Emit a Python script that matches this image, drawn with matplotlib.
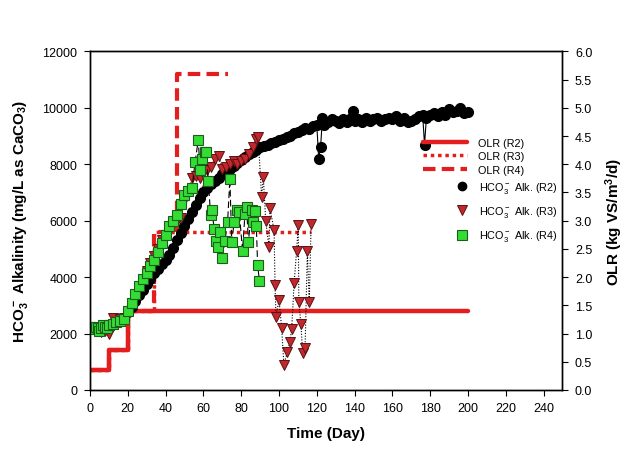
import matplotlib
matplotlib.use("Agg")
import matplotlib.pyplot as plt
from matplotlib.lines import Line2D
import numpy as np

plt.rcParams.update(
    {
        "font.family": ["Liberation Sans", "DejaVu Sans"],
        "mathtext.default": "regular",
        "axes.linewidth": 1.0,
    }
)

# OLR steps (kg VS/m3/d)
olr_r2_day = [0, 10, 20, 200]
olr_r2 = [0.35, 0.7, 1.4, 1.4]
olr_r3_day = [0, 10, 20, 34, 117]
olr_r3 = [0.35, 0.7, 1.4, 2.8, 2.8]
olr_r4_day = [0, 10, 20, 34, 46, 73]
olr_r4 = [0.35, 0.7, 1.4, 2.8, 5.6, 5.6]

# HCO3- alkalinity, R2
r2_day = [0, 2, 4, 6, 8, 10, 12, 14, 16, 18, 20, 22, 24, 26, 28, 30, 32, 34, 36, 38,
          40, 42, 44, 46, 48, 50, 52, 54, 56, 58, 60, 62, 64, 66, 68, 70, 72, 74, 76, 78,
          80, 82, 84, 86, 88, 90, 92, 94, 96, 98, 100, 102, 104, 106, 108, 110, 112, 114,
          116, 118, 120, 121, 122, 123, 124, 126, 128, 130, 132, 134, 136, 138, 139, 140,
          142, 144, 146, 148, 150, 152, 154, 156, 158, 160, 162, 164, 166, 168, 170, 172,
          174, 176, 177, 178, 180, 182, 184, 186, 188, 190, 192, 194, 196, 198, 200]
r2_alk = [2200, 2250, 2150, 2200, 2250, 2300, 2350, 2400, 2450, 2550, 2750, 2950, 3150,
          3350, 3550, 3750, 3950, 4150, 4300, 4450, 4600, 4800, 5050, 5300, 5550, 5800,
          6050, 6300, 6550, 6800, 7000, 7150, 7300, 7400, 7500, 7650, 7750, 7850, 7950,
          8050, 8150, 8250, 8350, 8450, 8500, 8600, 8650, 8700, 8750, 8800, 8850, 8900,
          8950, 9000, 9100, 9150, 9200, 9300, 9250, 9350, 9400, 8200, 8600, 9650, 9400,
          9500, 9600, 9550, 9450, 9600, 9500, 9650, 9900, 9550, 9600, 9500, 9650, 9550,
          9600, 9650, 9550, 9600, 9650, 9600, 9700, 9550, 9650, 9500, 9550, 9600, 9700,
          9750, 8700, 9650, 9750, 9800, 9700, 9850, 9750, 9950, 9850, 9900, 10000, 9800,
          9850]

# HCO3- alkalinity, R3
r3_day = [0, 2, 4, 6, 8, 10, 12, 14, 16, 18, 20, 22, 24, 26, 28, 30, 32, 34, 36, 38,
          40, 42, 44, 46, 48, 50, 52, 54, 56, 58, 60, 62, 64, 66, 68, 70, 72, 74, 76, 78,
          80, 82, 84, 86, 88, 89, 90.8, 91.7, 93, 94.7, 95.2, 97.4, 97.9, 98.4, 100,
          101.4, 102.6, 104.4, 105.8, 106.7, 108, 109.3, 110.2, 110.5, 111.6, 112.5,
          113.8, 115, 116, 117]
r3_alk = [2200, 2150, 2100, 2050, 2100, 2000, 2550, 2350, 2500, 2550, 2700, 3000, 3300,
          3600, 3900, 4200, 4500, 4750, 5000, 5300, 5500, 5700, 5900, 6000, 6100, 6700,
          7000, 7500, 7600, 7500, 7700, 7800, 7900, 8200, 8300, 7850, 7900, 8000, 8100,
          8000, 8100, 8200, 8350, 8600, 8900, 8950, 6830, 7540, 5980, 5060, 6450, 5670,
          3720, 2600, 3200, 2200, 900, 1330, 1710, 2160, 3780, 4920, 5850, 3110, 2340,
          1310, 1490, 4920, 3110, 5870]

# HCO3- alkalinity, R4
r4_day = [0, 1, 2, 3, 4, 5, 6, 7, 8, 9, 10, 12, 14, 16, 18, 20, 22, 24, 26, 28, 30, 32,
          34, 36, 38, 40, 42, 44, 46, 48, 50, 52, 54, 55.6, 57.3, 58.2, 59, 60.8, 61.5,
          62.6, 63.8, 64.5, 65.7, 66.5, 67.5, 68.8, 70, 71.4, 72.8, 74, 75, 76.3, 77.6,
          79, 80.7, 82, 82.9, 83.8, 85.5, 86, 87.3, 88, 88.7, 89.6]
r4_alk = [2250, 2200, 2150, 2250, 2200, 2100, 2200, 2300, 2250, 2200, 2300, 2350, 2400,
          2450, 2500, 2800, 3100, 3400, 3700, 3950, 4150, 4400, 4600, 4900, 5200, 5500,
          5800, 6000, 6200, 6600, 6900, 7050, 7150, 8090, 8860, 7800, 8190, 8430, 8440,
          7420, 6200, 6390, 5710, 5290, 5060, 5590, 4690, 5290, 5940, 7480, 5260, 5940,
          6390, 6300, 4940, 6240, 6470, 5240, 6390, 5940, 6330, 5820, 4430, 3880]

olr_red = "#e41e1e"

fig = plt.figure(figsize=(6.28, 4.52), dpi=100)
ax = fig.add_axes([0.1433, 0.135, 0.7524, 0.749])
ax2 = ax.twinx()
ax.set_zorder(ax2.get_zorder() + 1)
ax.patch.set_visible(False)

ln_r3, = ax2.plot(olr_r3_day, olr_r3, drawstyle="steps-post", color=olr_red,
                  linewidth=2.5, linestyle=(0, (1, 1.1)))
ln_r4, = ax2.plot(olr_r4_day, olr_r4, drawstyle="steps-post", color=olr_red,
                  linewidth=3, linestyle=(0, (3, 1.5)))
ln_r2, = ax2.plot(olr_r2_day, olr_r2, drawstyle="steps-post", color=olr_red,
                  linewidth=3.2, solid_capstyle="round")

ax.plot(r2_day, r2_alk, color="black", linewidth=0.8, marker="o", markersize=7,
        markerfacecolor="black", markeredgecolor="black")
ax.plot(r3_day, r3_alk, color="black", linewidth=0.8, linestyle=(0, (1, 1.5)),
        marker="v", markersize=7, markerfacecolor="#c1272d",
        markeredgecolor="#5a1212", markeredgewidth=0.7)
ax.plot(r4_day, r4_alk, color="black", linewidth=0.8, linestyle=(0, (6, 3)),
        marker="s", markersize=6.5, markerfacecolor="#33dd33",
        markeredgecolor="#1d5c1d", markeredgewidth=0.8)

ax.set_xlim(0, 250)
ax.set_ylim(0, 12000)
ax2.set_ylim(0, 6)
ax.set_xticks(np.arange(0, 241, 20))
ax.set_yticks(np.arange(0, 12001, 2000))
ax2.set_yticks(np.arange(0, 6.01, 0.5))
ax2.set_yticklabels([f"{v:.1f}" for v in np.arange(0, 6.01, 0.5)])

for a in (ax, ax2):
    a.tick_params(direction="out", length=4, width=0.8, labelsize=9, pad=5)

ax.set_xlabel("Time (Day)", fontsize=11, fontweight="bold", labelpad=8)
ax.set_ylabel("HCO$_3^-$ Alkalinity (mg/L as CaCO$_3$)", fontsize=11,
              fontweight="bold", labelpad=9)
ax2.set_ylabel("OLR (kg VS/m$^3$/d)", fontsize=11, fontweight="bold", labelpad=8)

leg1 = ax.legend([ln_r2, ln_r3, ln_r4], ["OLR (R2)", "OLR (R3)", "OLR (R4)"],
                 loc="upper left", bbox_to_anchor=(423 / 628, 1 - 139 / 452),
                 bbox_transform=fig.transFigure, frameon=False, fontsize=7.8,
                 handlelength=4.1, handletextpad=1.0, labelspacing=0.3,
                 borderpad=0, borderaxespad=0)
ax.add_artist(leg1)

mk_handles = [
    Line2D([], [], linestyle="none", marker="o", markersize=6, color="black"),
    Line2D([], [], linestyle="none", marker="v", markersize=7,
           markerfacecolor="#c1272d", markeredgecolor="#5a1212", markeredgewidth=0.7),
    Line2D([], [], linestyle="none", marker="s", markersize=6.5,
           markerfacecolor="#33dd33", markeredgecolor="#1d5c1d", markeredgewidth=0.8),
]
ax.legend(mk_handles,
          ["HCO$_3^-$ Alk. (R2)", "HCO$_3^-$ Alk. (R3)", "HCO$_3^-$ Alk. (R4)"],
          loc="upper left", bbox_to_anchor=(455 / 628, 1 - 181 / 452),
          bbox_transform=fig.transFigure, frameon=False, fontsize=7.8,
          handlelength=1.2, handletextpad=1.0, labelspacing=0.85,
          borderpad=0, borderaxespad=0)

fig.savefig("out.png", dpi=100)
